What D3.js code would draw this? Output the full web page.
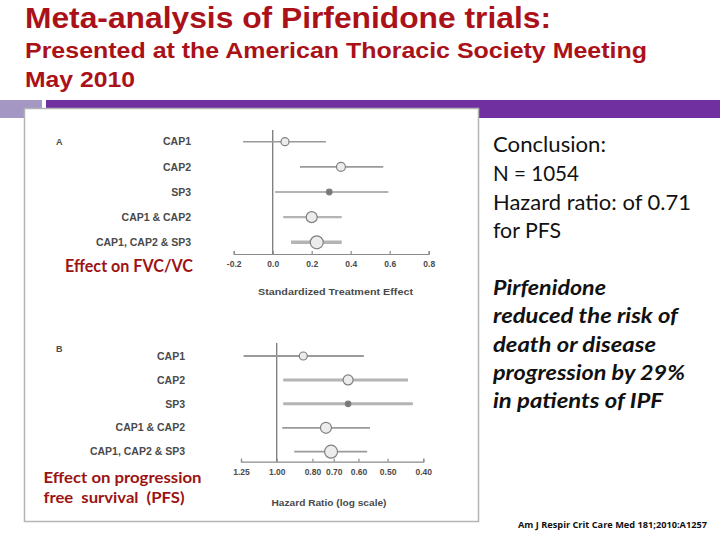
<!DOCTYPE html>
<html><head><meta charset="utf-8">
<script src="https://cdn.jsdelivr.net/npm/d3@7"></script>
<style>html,body{margin:0;padding:0;background:#fff;} svg{display:block;}</style>
</head><body>
<script>
const trials = ["CAP1", "CAP2", "SP3", "CAP1 & CAP2", "CAP1, CAP2 & SP3"];
const fvcEst = [0.063, 0.35, 0.29, 0.20, 0.226];
const fvcLow = [-0.152, 0.14, 0.012, 0.054, 0.094];
const fvcHigh = [0.273, 0.567, 0.593, 0.354, 0.354];
const pfsEst = [0.847, 0.64, 0.64, 0.735, 0.712];
const pfsLow = [0.58, 0.44, 0.427, 0.558, 0.568];
const pfsHigh = [1.23, 0.96, 0.96, 0.966, 0.896];
const fvcTicks = [-0.2, 0.0, 0.2, 0.4, 0.6, 0.8];
const pfsTicks = [1.25, 1.00, 0.80, 0.70, 0.60, 0.50, 0.40];
const titleLines = ["Meta-analysis of Pirfenidone trials:", "Presented at the American Thoracic Society Meeting", "May 2010"];
const conclusionLines = ["Conclusion:", "N = 1054", "Hazard ratio: of 0.71", "for PFS"];
const messageLines = ["Pirfenidone", "reduced the risk of", "death or disease", "progression by 29%", "in patients of IPF"];
const citation = "Am J Respir Crit Care Med 181;2010:A1257";

const svg = d3.select("body").append("svg").attr("width", 720).attr("height", 540);
const red = "#ab1119";

// Title
svg.append("text").attr("x", 25).attr("y", 28).attr("font-family", "Liberation Sans, Arial, sans-serif")
  .attr("font-weight", "bold").attr("font-size", 29).attr("fill", red)
  .attr("textLength", 526).attr("lengthAdjust", "spacingAndGlyphs").text(titleLines[0]);
svg.append("text").attr("x", 25).attr("y", 58).attr("font-family", "Liberation Sans, Arial, sans-serif")
  .attr("font-weight", "bold").attr("font-size", 21.5).attr("fill", red)
  .attr("textLength", 622).attr("lengthAdjust", "spacingAndGlyphs").text(titleLines[1]);
svg.append("text").attr("x", 25).attr("y", 87).attr("font-family", "Liberation Sans, Arial, sans-serif")
  .attr("font-weight", "bold").attr("font-size", 21.5).attr("fill", red)
  .attr("textLength", 110).attr("lengthAdjust", "spacingAndGlyphs").text(titleLines[2]);

// Decorative bars
svg.append("rect").attr("x", 0).attr("y", 100).attr("width", 42).attr("height", 18).attr("fill", "#a597c4");
svg.append("rect").attr("x", 46).attr("y", 100).attr("width", 674).attr("height", 18).attr("fill", "#7030a0");

// Image frame
svg.append("rect").attr("x", 24.5).attr("y", 108.5).attr("width", 454).attr("height", 413)
  .attr("fill", "#fff").attr("stroke", "#b4b4b4").attr("stroke-width", 1.5);

const labelFont = "Liberation Sans, Arial, sans-serif";
const gray = "#4a4a4a";

function forest(cfg) {
  const g = svg.append("g");
  const y = d3.scalePoint().domain(trials).range(cfg.yRange);
  const x = cfg.x;
  g.append("text").attr("x", 56).attr("y", cfg.letterY).attr("font-family", labelFont).attr("font-weight", "bold")
    .attr("font-size", 9).attr("fill", gray).text(cfg.letter);
  g.selectAll("text.row").data(trials).join("text").attr("class", "row")
    .attr("x", cfg.labelX).attr("y", d => y(d)).attr("dy", "0.35em").attr("text-anchor", "end")
    .attr("font-family", labelFont).attr("font-weight", "bold").attr("font-size", 10.5).attr("fill", gray)
    .text(d => d);
  g.append("line").attr("x1", x(cfg.ref)).attr("x2", x(cfg.ref)).attr("y1", cfg.refTop).attr("y2", cfg.axisY)
    .attr("stroke", "#7a7a7a").attr("stroke-width", 1.3);
  const rows = trials.map((t, i) => ({t, est: cfg.est[i], lo: cfg.lo[i], hi: cfg.hi[i], i}));
  g.selectAll("line.ci").data(rows).join("line").attr("class", "ci")
    .attr("x1", d => x(d.lo)).attr("x2", d => x(d.hi)).attr("y1", d => y(d.t)).attr("y2", d => y(d.t))
    .attr("stroke", d => cfg.lineW[d.i] > 2 ? "#b4b4b4" : "#9a9a9a").attr("stroke-width", d => cfg.lineW[d.i]);
  g.selectAll("circle.pt").data(rows).join("circle").attr("class", "pt")
    .attr("cx", d => x(d.est)).attr("cy", d => y(d.t)).attr("r", d => cfg.markR[d.i])
    .attr("fill", d => d.i === 2 ? "#777" : "#ececec").attr("stroke", "#808080").attr("stroke-width", 1.2);
  const ax = d3.axisBottom(x).tickValues(cfg.ticks).tickFormat(cfg.fmt)
    .tickSizeInner(-3).tickSizeOuter(-3).tickPadding(7);
  const axg = g.append("g").attr("transform", `translate(0,${cfg.axisY})`).call(ax);
  axg.selectAll("path,line").attr("stroke", "#8a8a8a").attr("stroke-width", 1.2);
  axg.selectAll("text").attr("font-family", labelFont).attr("font-weight", "bold").attr("font-size", 8.5).attr("fill", gray);
  g.append("text").attr("x", cfg.titleX).attr("y", cfg.titleY).attr("text-anchor", "middle")
    .attr("font-family", labelFont).attr("font-weight", "bold").attr("font-size", 9.5).attr("fill", gray)
    .attr("textLength", cfg.titleW).attr("lengthAdjust", "spacingAndGlyphs").text(cfg.title);
}

const hyphenFmt = f => v => f(v).replace("\u2212", "-");

forest({
  letter: "A", letterY: 145,
  x: d3.scaleLinear().domain([-0.2, 0.8]).range([233.7, 428.7]),
  yRange: [141.7, 242.3], labelX: 191, ref: 0, refTop: 130, axisY: 254,
  est: fvcEst, lo: fvcLow, hi: fvcHigh, ticks: fvcTicks, fmt: hyphenFmt(d3.format(".1f")),
  lineW: [1.6, 1.6, 1.6, 2.2, 3.5], markR: [4, 4.5, 2.8, 5.5, 6.5],
  title: "Standardized Treatment Effect", titleX: 335.5, titleY: 295, titleW: 155
});

forest({
  letter: "B", letterY: 352,
  x: d3.scaleLog().domain([1.25, 0.4]).range([241, 423.3]),
  yRange: [356, 451.7], labelX: 185, ref: 1, refTop: 343, axisY: 461.7,
  est: pfsEst, lo: pfsLow, hi: pfsHigh, ticks: pfsTicks, fmt: d3.format(".2f"),
  lineW: [1.8, 3, 3, 1.8, 1.8], markR: [4, 5, 2.8, 5.5, 6.5],
  title: "Hazard Ratio (log scale)", titleX: 329, titleY: 505.5, titleW: 115
});

const effFont = "Lato, 'Open Sans', sans-serif";
const effRed = "#9c1313";
svg.append("text").attr("x", 65).attr("y", 271.5).attr("font-family", effFont).attr("font-weight", "bold")
  .attr("font-size", 16.5).attr("fill", effRed).attr("textLength", 128).attr("lengthAdjust", "spacingAndGlyphs")
  .text("Effect on FVC/VC");
svg.append("text").attr("x", 43.5).attr("y", 482.5).attr("font-family", effFont).attr("font-weight", "bold")
  .attr("font-size", 15).attr("fill", effRed).attr("textLength", 158).attr("lengthAdjust", "spacingAndGlyphs")
  .text("Effect on progression");
svg.append("text").attr("x", 43.5).attr("y", 503.3).attr("font-family", effFont).attr("font-weight", "bold")
  .attr("font-size", 15).attr("fill", effRed).attr("textLength", 141).attr("lengthAdjust", "spacingAndGlyphs")
  .style("white-space", "pre").text("free  survival  (PFS)");

const rFont = "Lato, 'Open Sans', sans-serif";
const conclW = [113, 86, 198, 68];
const conclY = [152.3, 180.7, 210, 238.3];
svg.selectAll("text.concl").data(conclusionLines).join("text").attr("class", "concl")
  .attr("x", 493).attr("y", (d, i) => conclY[i]).attr("font-family", rFont).attr("font-size", 21)
  .attr("fill", "#111").attr("textLength", (d, i) => conclW[i]).attr("lengthAdjust", "spacingAndGlyphs")
  .text(d => d);
const msgW = [113, 185, 163, 192, 170];
const msgY = [295, 323.3, 351.7, 380, 408.3];
svg.selectAll("text.msg").data(messageLines).join("text").attr("class", "msg")
  .attr("x", 493).attr("y", (d, i) => msgY[i]).attr("font-family", rFont).attr("font-size", 21)
  .attr("font-weight", "bold").attr("font-style", "italic")
  .attr("fill", "#111").attr("textLength", (d, i) => msgW[i]).attr("lengthAdjust", "spacingAndGlyphs")
  .text(d => d);

svg.append("text").attr("x", 518).attr("y", 528).attr("font-family", "'Open Sans', sans-serif")
  .attr("font-weight", "bold").attr("font-size", 8.5).attr("fill", "#111")
  .attr("textLength", 189).attr("lengthAdjust", "spacingAndGlyphs").text(citation);
</script>
</body></html>
